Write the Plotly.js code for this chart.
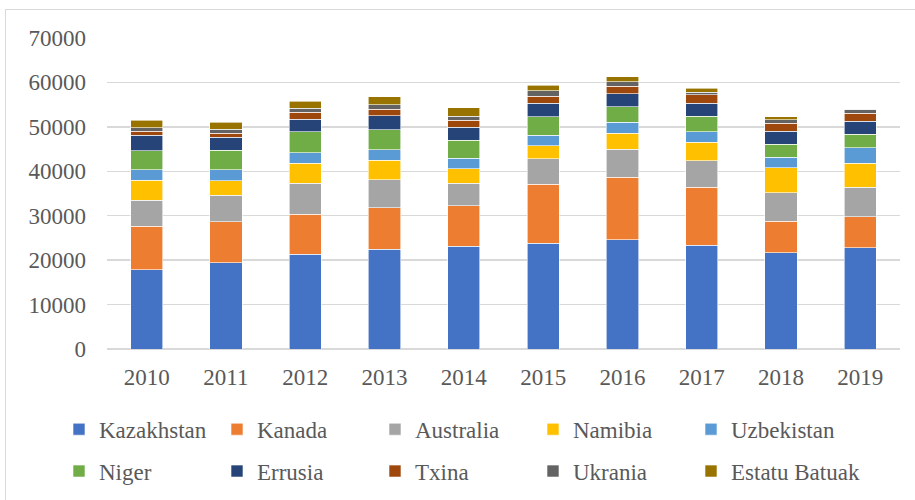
<!DOCTYPE html>
<html>
<head>
<meta charset="utf-8">
<script src="https://cdn.plot.ly/plotly-3.0.1.min.js"></script>
<style>
  html, body { margin: 0; padding: 0; background: #ffffff; }
  #frame { position: absolute; left: 5px; top: 9px; width: 915px; height: 495px;
           border-left: 1px solid #d9d9d9; border-top: 1px solid #d9d9d9; }
  #chart { position: absolute; left: 0; top: 0; width: 915px; height: 500px; }
</style>
</head>
<body>
<div id="frame"></div>
<div id="chart"></div>
<script>
const years = ['2010','2011','2012','2013','2014','2015','2016','2017','2018','2019'];

const kazakhstan   = [17803, 19451, 21317, 22451, 23127, 23800, 24586, 23321, 21705, 22808];
const kanada       = [9783, 9145, 8999, 9331, 9134, 13325, 14039, 13116, 7001, 6938];
const australia    = [5900, 5983, 6991, 6350, 5001, 5654, 6315, 5882, 6517, 6613];
const namibia      = [4496, 3258, 4495, 4323, 3255, 2993, 3654, 4224, 5525, 5476];
const uzbekistan   = [2400, 2500, 2400, 2400, 2400, 2385, 2404, 2404, 2404, 3500];
const niger        = [4198, 4351, 4667, 4518, 4057, 4116, 3479, 3449, 2911, 2983];
const errusia      = [3562, 2993, 2872, 3135, 2990, 3055, 3004, 2917, 2904, 2911];
const txina        = [827, 885, 1500, 1500, 1500, 1616, 1616, 1885, 1885, 1885];
const ukrania      = [850, 890, 960, 922, 926, 1200, 1005, 550, 790, 801];
const estatuBatuak = [1660, 1537, 1596, 1792, 1919, 1256, 1125, 940, 582, 67];

const seriesNames = ['Kazakhstan','Kanada','Australia','Namibia','Uzbekistan',
                     'Niger','Errusia','Txina','Ukrania','Estatu Batuak'];
const seriesValues = [kazakhstan, kanada, australia, namibia, uzbekistan,
                      niger, errusia, txina, ukrania, estatuBatuak];
const colors = ['#4472C4','#ED7D31','#A5A5A5','#FFC000','#5B9BD5',
                '#70AD47','#264478','#9E480E','#636363','#997300'];

const font = 'Liberation Serif, Times New Roman, serif';

const legendIds = ['legend','legend','legend','legend','legend',
                   'legend2','legend2','legend2','legend2','legend3'];

const traces = seriesNames.map((name, i) => ({
  type: 'bar',
  name: name,
  x: years,
  y: seriesValues[i],
  marker: { color: colors[i], line: { color: '#ffffff', width: 0.6 } },
  legend: legendIds[i],
  hoverinfo: 'x+y+name'
}));

const legendCommon = {
  orientation: 'h',
  xanchor: 'left',
  yanchor: 'middle',
  font: { family: font, size: 23, color: '#595959' },
  entrywidth: 113,
  entrywidthmode: 'pixels',
  itemwidth: 30,
  traceorder: 'normal',
  bgcolor: 'rgba(0,0,0,0)'
};

const plotTop = 37.5, plotBottom = 349.5, plotH = plotBottom - plotTop;
function paperY(py) { return (plotBottom - py) / plotH; }
const plotLeft = 107, plotRight = 900, plotW = plotRight - plotLeft;
function paperX(px) { return (px - plotLeft) / plotW; }

const layout = {
  width: 915,
  height: 500,
  barmode: 'stack',
  bargap: 0.595,
  paper_bgcolor: 'rgba(0,0,0,0)',
  plot_bgcolor: 'rgba(0,0,0,0)',
  margin: { l: plotLeft, r: 915 - plotRight, t: plotTop, b: 500 - plotBottom, pad: 0, autoexpand: false },
  font: { family: font, size: 23, color: '#595959' },
  xaxis: {
    type: 'category',
    showgrid: false,
    zeroline: false,
    showline: false,
    ticks: '',
    ticklabelstandoff: 12,
    automargin: false,
    tickfont: { family: font, size: 23, color: '#595959' }
  },
  yaxis: {
    range: [0, 70000],
    tickvals: [0,10000,20000,30000,40000,50000,60000,70000],
    ticktext: ['0','10000','20000','30000','40000','50000','60000','70000'],
    showgrid: true,
    gridcolor: '#d9d9d9',
    gridwidth: 1.3,
    zeroline: true,
    zerolinecolor: '#d9d9d9',
    zerolinewidth: 1.3,
    showline: false,
    ticks: '',
    ticklabelstandoff: 20,
    automargin: false,
    tickfont: { family: font, size: 23, color: '#595959' }
  },
  legend: Object.assign({}, legendCommon, { x: paperX(59), y: paperY(430) }),
  legend2: Object.assign({}, legendCommon, { x: paperX(59), y: paperY(472) }),
  legend3: Object.assign({}, legendCommon, { entrywidth: 160, x: paperX(59 + 4 * 158), y: paperY(472) }),
  showlegend: true
};

Plotly.newPlot('chart', traces, layout, { displayModeBar: false, staticPlot: true });
</script>
</body>
</html>
